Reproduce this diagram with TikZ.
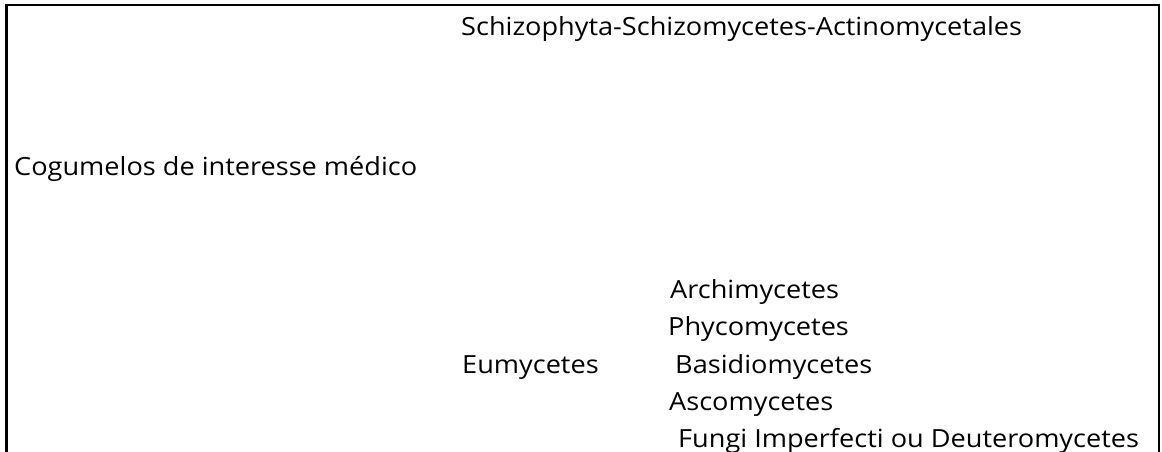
\documentclass[tikz,border=0pt]{standalone}
\usepackage{fontspec}
\setmainfont{Open Sans}[FakeStretch=1.085]
\begin{document}
\begin{tikzpicture}[x=1pt,y=-1pt,
  lbl/.style={anchor=base west,inner sep=0pt,font=\fontsize{25}{29}\selectfont},
  frame/.style={line width=2.2pt}]
\useasboundingbox (0,0) rectangle (1162,452);
\coordinate (tl) at (6.5,5);
\coordinate (tr) at (1159,5);
\coordinate (bl) at (6.5,452);
\coordinate (br) at (1159,452);
\draw[frame] (bl) -- (tl) -- (tr) -- (br);
\node[lbl] (schizo) at (461,36) {Schizophyta-Schizomycetes-Actinomycetales};
\node[lbl] (cogu) at (14,175) {Cogumelos de interesse médico};
\node[lbl] (eumy) at (462,373) {Eumycetes};
\node[lbl] (archi) at (670,298) {Archimycetes};
\node[lbl] (phyco) at (668,335) {Phycomycetes};
\node[lbl] (basid) at (675,373) {Basidiomycetes};
\node[lbl] (asco) at (669,410) {Ascomycetes};
\node[lbl] (fungi) at (678,447) {Fungi Imperfecti ou Deuteromycetes};
\end{tikzpicture}
\end{document}
